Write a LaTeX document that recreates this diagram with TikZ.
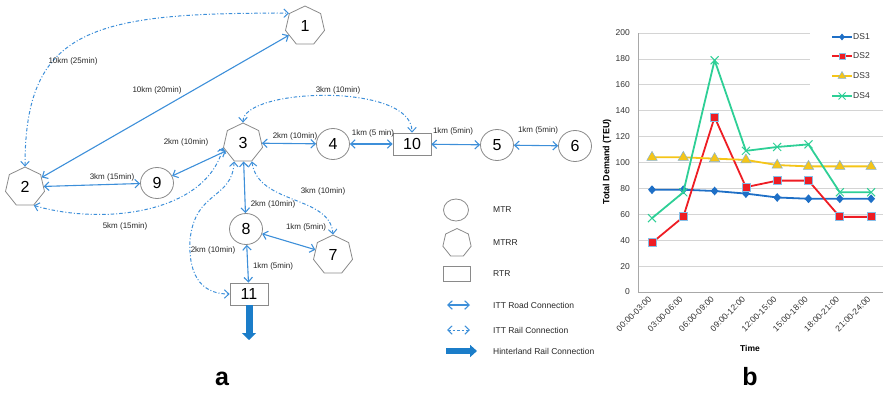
\documentclass[tikz,border=0pt]{standalone}
\usepackage{fontspec}
\setmainfont{Liberation Sans}
\usetikzlibrary{arrows.meta,shapes.geometric,shapes.misc}
\definecolor{roadblue}{HTML}{3D8FD9}
\definecolor{hblue}{HTML}{1B7DC9}
\definecolor{nodegray}{HTML}{8A8A8A}
\definecolor{gridgray}{HTML}{D4D4D4}
\definecolor{axisgray}{HTML}{A8A8A8}
\definecolor{dsone}{HTML}{1E6FC6}
\definecolor{dstwo}{HTML}{EE1D24}
\definecolor{dsthree}{HTML}{F5C518}
\definecolor{dsfour}{HTML}{2ECF96}
\definecolor{mkedge}{HTML}{86BFE8}
\begin{document}
\begin{tikzpicture}[x=1pt,y=-1pt,
  numfont/.style={font=\fontsize{16}{16}\selectfont},
  mtr/.style={ellipse, draw=nodegray, line width=0.8pt, minimum width=33pt, minimum height=31pt, inner sep=0pt, numfont},
  mtrr/.style={regular polygon, regular polygon sides=7, draw=nodegray, line width=0.8pt, minimum size=40pt, inner sep=0pt, numfont},
  rtr/.style={rectangle, draw=nodegray, line width=0.8pt, minimum width=38pt, minimum height=22pt, inner sep=0pt, numfont},
  tipb/.tip={Straight Barb[length=4.5pt,width=8.5pt]},
  road/.style={draw=roadblue, line width=1.1pt, tipb-tipb},
  rail/.style={road, line width=1pt, dash pattern=on 3.5pt off 2pt on 1pt off 2pt},
  hinter/.style={draw=hblue, line width=7pt, -{Triangle[length=7pt,width=14pt]}},
  lbl/.style={font=\fontsize{8}{8}\selectfont, inner sep=0pt, text=black!85},
  leg/.style={font=\fontsize{8.5}{8.5}\selectfont, inner sep=0pt, anchor=west, text=black!85},
  tick/.style={font=\fontsize{8.5}{8.5}\selectfont, inner sep=0pt, text=black!80},
  serline/.style={line width=1.8pt, line join=round},
  mkone/.style={diamond, fill=dsone, minimum width=8pt, minimum height=9pt, inner sep=0pt},
  mktwo/.style={rectangle, fill=dstwo, draw=mkedge, line width=0.8pt, minimum size=8pt, inner sep=0pt},
  mkthree/.style={regular polygon, regular polygon sides=3, fill=dsthree, draw=mkedge!80!gray, line width=0.5pt, minimum size=12pt, inner sep=0pt},
  mkfour/.style={cross out, draw=dsfour, line width=1pt, minimum size=7pt, inner sep=0pt}
]
\useasboundingbox (0,0) rectangle (883,392);

% ---------------- network (a) ----------------
\node[mtrr] (n1) at (305,26) {1};
\node[mtrr] (n2) at (25,187) {2};
\node[mtrr] (n3) at (243,143) {3};
\node[mtr]  (n4) at (333,144) {4};
\node[mtr]  (n5) at (497,145) {5};
\node[mtr]  (n6) at (575,146) {6};
\node[mtrr] (n7) at (333,255) {7};
\node[mtr]  (n8) at (246,229) {8};
\node[mtr]  (n9) at (157,183) {9};
\node[rtr]  (n10) at (412,144) {10};
\node[rtr]  (n11) at (249,294) {11};

% road connections
\draw[road] (n2) -- (n1);
\draw[road] (n2) -- (n9);
\draw[road] (n9) -- (n3);
\draw[road] (n3) -- (n4);
\draw[road] (n4) -- (n10);
\draw[road] (n10) -- (n5);
\draw[road] (n5) -- (n6);
\draw[road] (n3) -- (n8);
\draw[road] (n8) -- (n7);
\draw[road] (n8) -- (n11);

% rail connections
\draw[rail] (n2.north) .. controls (25,30) and (90,12) .. (n1.corner 2);
\draw[rail] (n3.north) .. controls (243,88) and (412,82) .. (n10.north);
\draw[rail] (n2.corner 5) .. controls (100,225) and (205,215) .. (n3.corner 3);
\draw[rail] (n3.corner 4) .. controls (232,200) and (195,190) .. (190,240) .. controls (188,280) and (205,294) .. (n11.west);
\draw[rail] (n3.corner 5) .. controls (258,205) and (330,195) .. (n7.north);

% hinterland
\coordinate (h11) at (249,340);
\draw[hinter] (n11.south) -- (h11);

% labels
\node[lbl] (l1) at (73,61) {10km (25min)};
\node[lbl] (l2) at (157,90) {10km (20min)};
\node[lbl] (l3) at (112,177) {3km (15min)};
\node[lbl] (l4) at (186,142) {2km (10min)};
\node[lbl] (l5) at (295,136) {2km (10min)};
\node[lbl] (l6) at (373,133) {1km (5 min)};
\node[lbl] (l7) at (453,131) {1km (5min)};
\node[lbl] (l8) at (538,130) {1km (5min)};
\node[lbl] (l9) at (338,90) {3km (10min)};
\node[lbl] (l10) at (273,204) {2km (10min)};
\node[lbl] (l11) at (306,227) {1km (5min)};
\node[lbl] (l12) at (273,266) {1km (5min)};
\node[lbl] (l13) at (323,191) {3km (10min)};
\node[lbl] (l14) at (125,226) {5km (15min)};
\node[lbl] (l15) at (213,250) {2km (10min)};

% legend
\node[ellipse, draw=nodegray, line width=0.8pt, minimum width=25pt, minimum height=22pt, inner sep=0pt] (gmtr) at (456,210) {};
\node[regular polygon, regular polygon sides=7, draw=nodegray, line width=0.8pt, minimum size=29pt, inner sep=0pt] (gmtrr) at (457,243) {};
\node[rectangle, draw=nodegray, line width=0.8pt, minimum width=27pt, minimum height=15pt, inner sep=0pt] (grtr) at (457,274) {};
\node[leg] (tmtr) at (493,210) {MTR};
\node[leg] (tmtrr) at (493,243) {MTRR};
\node[leg] (trtr) at (493,274) {RTR};
\coordinate (ra) at (447,305); \coordinate (rb) at (470,305);
\draw[road] (ra) -- (rb);
\coordinate (qa) at (447,330); \coordinate (qb) at (470,330);
\draw[rail, dash pattern=on 2.5pt off 2pt] (qa) -- (qb);
\coordinate (ha) at (446,351); \coordinate (hb) at (477,351);
\draw[draw=hblue, line width=6pt, -{Triangle[length=7pt,width=12pt]}] (ha) -- (hb);
\node[leg] (troad) at (493,305) {ITT Road Connection};
\node[leg] (trail) at (493,330) {ITT Rail Connection};
\node[leg] (thint) at (493,351) {Hinterland Rail Connection};

\node[font=\bfseries\fontsize{25}{25}\selectfont, anchor=base, inner sep=0pt] (pa) at (222,385) {a};

% ---------------- chart (b) ----------------
\foreach \v in {20,40,...,200}
  \draw[gridgray, line width=0.8pt] (638,{292-1.295*\v}) -- (883,{292-1.295*\v});
\fill[white] (810,25) rectangle (883,105);
\draw[axisgray, line width=0.9pt] (638,33) -- (638,292) -- (883,292);
\foreach \v in {0,20,...,200}
  \node[tick, anchor=east] (yt\v) at (630,{292-1.295*\v}) {\v};
\foreach \t [count=\i from 0] in {00:00-03:00,03:00-06:00,06:00-09:00,09:00-12:00,12:00-15:00,15:00-18:00,18:00-21:00,21:00-24:00}
  \node[tick, anchor=east, rotate=45] (xt\i) at ({650+31.3*\i},298) {\t};
\node[font=\bfseries\fontsize{9}{9}\selectfont, inner sep=0pt, rotate=90] (ylab) at (607,162) {Total Demand (TEU)};
\node[font=\bfseries\fontsize{8.5}{8.5}\selectfont, inner sep=0pt] (xlab) at (750,348) {Time};

\begin{scope}[shift={(652,292)}, x=31.3pt, y=1.295pt]
  \draw[dsone, serline] (0,79) -- (1,79) -- (2,78) -- (3,76) -- (4,73) -- (5,72) -- (6,72) -- (7,72);
  \foreach \v [count=\i from 0] in {79,79,78,76,73,72,72,72}
    \node[mkone] (p1m\i) at (\i,\v) {};
  \draw[dstwo, serline] (0,38) -- (1,58) -- (2,135) -- (3,81) -- (4,86) -- (5,86) -- (6,58) -- (7,58);
  \foreach \v [count=\i from 0] in {38,58,135,81,86,86,58,58}
    \node[mktwo] (p2m\i) at (\i,\v) {};
  \draw[dsthree, serline] (0,104) -- (1,104) -- (2,103) -- (3,102) -- (4,98) -- (5,97) -- (6,97) -- (7,97);
  \foreach \v [count=\i from 0] in {104,104,103,102,98,97,97,97}
    \node[mkthree] (p3m\i) at (\i,\v) {};
  \draw[dsfour, serline] (0,57) -- (1,77) -- (2,179) -- (3,109) -- (4,112) -- (5,114) -- (6,77) -- (7,77);
  \foreach \v [count=\i from 0] in {57,77,179,109,112,114,77,77}
    \node[mkfour] (p4m\i) at (\i,\v) {};
\end{scope}

% chart legend
\coordinate (k1a) at (832,37); \coordinate (k1b) at (852,37);
\coordinate (k2a) at (832,56); \coordinate (k2b) at (852,56);
\coordinate (k3a) at (832,76); \coordinate (k3b) at (852,76);
\coordinate (k4a) at (832,96); \coordinate (k4b) at (852,96);
\draw[dsone, serline] (k1a) -- (k1b); \node[mkone, minimum width=6pt, minimum height=7pt] (k1m) at (842,37) {};
\draw[dstwo, serline] (k2a) -- (k2b); \node[mktwo, minimum size=6pt] (k2m) at (842,56) {};
\draw[dsthree, serline] (k3a) -- (k3b); \node[mkthree, minimum size=9pt] (k3m) at (842,76) {};
\draw[dsfour, serline] (k4a) -- (k4b); \node[mkfour, minimum size=6pt] (k4m) at (842,96) {};
\node[tick, anchor=west] (k1t) at (853,37) {DS1};
\node[tick, anchor=west] (k2t) at (853,56) {DS2};
\node[tick, anchor=west] (k3t) at (853,76) {DS3};
\node[tick, anchor=west] (k4t) at (853,96) {DS4};

\node[font=\bfseries\fontsize{25}{25}\selectfont, anchor=base, inner sep=0pt] (pb) at (750,385) {b};
\end{tikzpicture}
\end{document}
